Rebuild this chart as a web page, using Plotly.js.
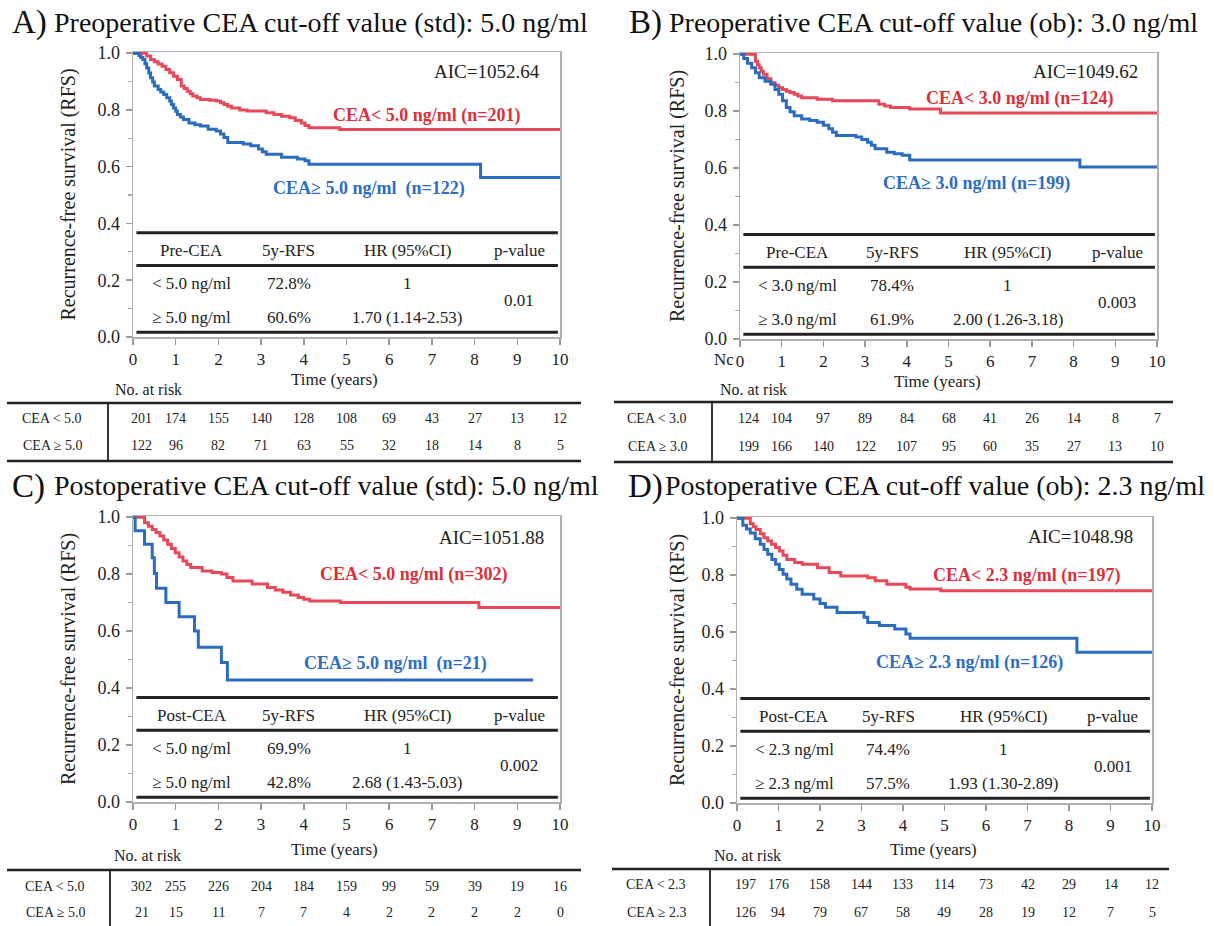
<!DOCTYPE html>
<html><head><meta charset="utf-8">
<script src="https://cdn.plot.ly/plotly-3.0.1.min.js"></script>
<style>html,body{margin:0;padding:0;background:#fff}</style>
</head><body><div id="chart" style="width:1214px;height:926px"></div>
<script>
// ---------------- DATA ----------------
const timeTicks = [0,1,2,3,4,5,6,7,8,9,10];
const yTickVals = [0,0.2,0.4,0.6,0.8,1.0];
const yTickText = ['0.0','0.2','0.4','0.6','0.8','1.0'];

// Panel A (preoperative, std 5.0)
const aLowT = [0,0.32,0.41,0.5,0.59,0.68,0.77,0.86,0.95,1.04,1.13,1.2,1.27,1.34,1.4,1.5,1.58,1.8,1.95,2.05,2.13,2.22,2.31,2.5,2.67,3.12,3.3,3.48,3.67,3.8,3.94,4.03,4.12,4.84,10];
const aLowS = [1,0.99,0.978,0.97,0.962,0.954,0.942,0.931,0.919,0.907,0.884,0.875,0.866,0.857,0.849,0.843,0.837,0.834,0.831,0.825,0.819,0.813,0.807,0.8,0.796,0.79,0.784,0.778,0.772,0.763,0.754,0.745,0.737,0.731,0.731];
const aHighT = [0,0.14,0.18,0.23,0.28,0.32,0.37,0.41,0.46,0.5,0.59,0.65,0.72,0.79,0.86,0.9,0.95,1.0,1.04,1.11,1.18,1.31,1.45,1.58,1.76,1.95,2.05,2.13,2.22,2.58,2.76,2.94,3.03,3.12,3.48,3.85,4.03,4.12,8.14,10];
const aHighS = [1,0.992,0.985,0.978,0.963,0.948,0.93,0.913,0.898,0.884,0.872,0.863,0.854,0.843,0.831,0.819,0.807,0.795,0.784,0.775,0.766,0.754,0.748,0.743,0.732,0.726,0.715,0.703,0.685,0.68,0.674,0.662,0.653,0.644,0.633,0.627,0.621,0.609,0.562,0.562];

// Panel B (preoperative, ob 3.0)
const bLowT = [0,0.37,0.42,0.46,0.51,0.56,0.65,0.74,0.84,0.93,1.02,1.11,1.2,1.3,1.39,1.48,1.85,2.22,3.33,3.47,3.61,4.07,4.81,10];
const bLowS = [1,0.975,0.963,0.952,0.94,0.929,0.914,0.9,0.891,0.882,0.876,0.87,0.865,0.859,0.853,0.847,0.842,0.836,0.824,0.818,0.813,0.807,0.793,0.793];
const bHighT = [0,0.09,0.18,0.28,0.37,0.46,0.6,0.74,0.84,0.93,1.02,1.11,1.2,1.3,1.48,1.67,1.85,2.0,2.13,2.22,2.31,2.78,2.92,3.06,3.15,3.24,3.52,3.7,3.89,4.07,8.15,10];
const bHighS = [1,0.985,0.968,0.952,0.935,0.917,0.905,0.894,0.876,0.859,0.836,0.813,0.798,0.784,0.772,0.767,0.761,0.75,0.738,0.726,0.714,0.709,0.7,0.691,0.68,0.668,0.656,0.65,0.645,0.628,0.604,0.604];

// Panel C (postoperative, std 5.0)
const cLowT = [0,0.27,0.36,0.45,0.54,0.63,0.72,0.81,0.9,0.99,1.08,1.17,1.26,1.35,1.62,1.85,2.07,2.2,2.34,2.79,3.15,3.33,3.51,3.69,3.87,4.0,4.14,4.86,8.1,10];
const cLowS = [1,0.98,0.968,0.957,0.946,0.934,0.92,0.905,0.89,0.875,0.86,0.846,0.834,0.823,0.811,0.806,0.8,0.788,0.776,0.765,0.753,0.744,0.736,0.727,0.718,0.712,0.706,0.7,0.683,0.683];
const cHighT = [0,0.05,0.27,0.45,0.5,0.55,0.77,1.08,1.44,1.53,2.07,2.21,9.37];
const cHighS = [1,0.952,0.905,0.857,0.802,0.75,0.70,0.65,0.60,0.543,0.49,0.428,0.428];

// Panel D (postoperative, ob 2.3)
const dLowT = [0,0.32,0.39,0.46,0.56,0.65,0.74,0.83,0.93,1.02,1.11,1.2,1.39,1.57,1.94,2.22,2.5,3.15,3.33,3.61,4.07,4.17,4.91,10];
const dLowS = [1,0.98,0.97,0.96,0.945,0.931,0.92,0.908,0.897,0.885,0.87,0.855,0.844,0.838,0.826,0.809,0.797,0.791,0.78,0.768,0.757,0.751,0.745,0.745];
const dHighT = [0,0.14,0.23,0.32,0.44,0.56,0.65,0.74,0.84,0.93,1.02,1.11,1.2,1.3,1.44,1.57,1.85,2.0,2.13,2.41,3.06,3.15,3.43,3.8,4.07,4.17,8.19,10];
const dHighS = [1,0.975,0.962,0.948,0.928,0.908,0.89,0.873,0.855,0.838,0.82,0.803,0.786,0.768,0.75,0.733,0.716,0.7,0.687,0.669,0.652,0.634,0.623,0.611,0.593,0.578,0.529,0.529];

const panelLetters = ['A)','B)','C)','D)'];
const panelTitles = ['Preoperative CEA cut-off value (std): 5.0 ng/ml','Preoperative CEA cut-off value (ob): 3.0 ng/ml','Postoperative CEA cut-off value (std): 5.0 ng/ml','Postoperative CEA cut-off value (ob): 2.3 ng/ml'];
const aicTexts = ['AIC=1052.64','AIC=1049.62','AIC=1051.88','AIC=1048.98'];
const lowLabels = ['CEA< 5.0 ng/ml (n=201)','CEA< 3.0 ng/ml (n=124)','CEA< 5.0 ng/ml (n=302)','CEA< 2.3 ng/ml (n=197)'];
const highLabels = ['CEA≥ 5.0 ng/ml  (n=122)','CEA≥ 3.0 ng/ml (n=199)','CEA≥ 5.0 ng/ml  (n=21)','CEA≥ 2.3 ng/ml (n=126)'];
const tableHeadA = ['Pre-CEA','5y-RFS','HR (95%CI)','p-value'];
const tableHeadB = ['Pre-CEA','5y-RFS','HR (95%CI)','p-value'];
const tableHeadC = ['Post-CEA','5y-RFS','HR (95%CI)','p-value'];
const tableHeadD = ['Post-CEA','5y-RFS','HR (95%CI)','p-value'];
const groupsA = ['< 5.0 ng/ml','≥ 5.0 ng/ml'], rfsA = ['72.8%','60.6%'], hrA = ['1','1.70 (1.14-2.53)'], pA = '0.01';
const groupsB = ['< 3.0 ng/ml','≥ 3.0 ng/ml'], rfsB = ['78.4%','61.9%'], hrB = ['1','2.00 (1.26-3.18)'], pB = '0.003';
const groupsC = ['< 5.0 ng/ml','≥ 5.0 ng/ml'], rfsC = ['69.9%','42.8%'], hrC = ['1','2.68 (1.43-5.03)'], pC = '0.002';
const groupsD = ['< 2.3 ng/ml','≥ 2.3 ng/ml'], rfsD = ['74.4%','57.5%'], hrD = ['1','1.93 (1.30-2.89)'], pD = '0.001';
const riskLabelsA = ['CEA < 5.0','CEA ≥ 5.0'];
const riskLabelsB = ['CEA < 3.0','CEA ≥ 3.0'];
const riskLabelsC = ['CEA < 5.0','CEA ≥ 5.0'];
const riskLabelsD = ['CEA < 2.3','CEA ≥ 2.3'];
const riskA_low = [201,174,155,140,128,108,69,43,27,13,12], riskA_high = [122,96,82,71,63,55,32,18,14,8,5];
const riskB_low = [124,104,97,89,84,68,41,26,14,8,7],   riskB_high = [199,166,140,122,107,95,60,35,27,13,10];
const riskC_low = [302,255,226,204,184,159,99,59,39,19,16], riskC_high = [21,15,11,7,7,4,2,2,2,2,0];
const riskD_low = [197,176,158,144,133,114,73,42,29,14,12], riskD_high = [126,94,79,67,58,49,28,19,12,7,5];

// ---------------- LAYOUT / STYLE ----------------
const W = 1214, H = 926;
const FONT = 'Liberation Serif, Times New Roman, serif';
const RED = '#e8485a', BLUE = '#2b6cbf', RED_TXT = '#dc2f3c', BLUE_TXT = '#2d6ec4';
const PX = p => p / W, PY = p => 1 - p / H;
const esc = s => s.replace(/</g,'&lt;').replace(/  /g,' \u00a0');

const geo = [
 {x0:133,x1:560,y0:337,y1:52, titleY:22, letterX:10, titleX:52, ylabX:68, timeY:379, noRiskX:113, noRiskY:389, rTop:403, r1:419, r2:445, rBot:461, rL:7, rR:581, rDiv:108, rLab:52},
 {x0:740,x1:1157,y0:339,y1:53, titleY:22, letterX:627, titleX:667, ylabX:677, timeY:381, noRiskX:718, noRiskY:389, rTop:402, r1:418, r2:446, rBot:462, rL:614, rR:1173, rDiv:712, rLab:657},
 {x0:133,x1:560,y0:802,y1:516, titleY:485, letterX:10, titleX:52, ylabX:68, timeY:849, noRiskX:112, noRiskY:855, rTop:870, r1:886, r2:912, rBot:930, rL:7, rR:581, rDiv:110, rLab:55},
 {x0:737,x1:1152,y0:803,y1:517, titleY:485, letterX:626, titleX:663, ylabX:677, timeY:849, noRiskX:712, noRiskY:855, rTop:869, r1:884, r2:912, rBot:930, rL:612, rR:1169, rDiv:710, rLab:656}
];
const curves = [[aLowT,aLowS,aHighT,aHighS],[bLowT,bLowS,bHighT,bHighS],[cLowT,cLowS,cHighT,cHighS],[dLowT,dLowS,dHighT,dHighS]];
const heads = [tableHeadA,tableHeadB,tableHeadC,tableHeadD];
const groups = [groupsA,groupsB,groupsC,groupsD], rfs=[rfsA,rfsB,rfsC,rfsD], hrs=[hrA,hrB,hrC,hrD], pv=[pA,pB,pC,pD];
const riskLabels = [riskLabelsA,riskLabelsB,riskLabelsC,riskLabelsD];
const risks = [[riskA_low,riskA_high],[riskB_low,riskB_high],[riskC_low,riskC_high],[riskD_low,riskD_high]];
// label placement (time, survival) per panel
const aicPos = [[9.58,0.937],[9.59,0.94],[9.67,0.927],[9.59,0.937]];
const lowPos = [[6.88,0.779],[6.72,0.843],[6.57,0.80],[6.99,0.797]];
const highPos = [[5.53,0.523],[5.68,0.547],[6.14,0.486],[5.6,0.493]];
const colT = [1.38,3.65,6.42,9.05];
const tbl = {top:0.367, head:0.303, hline:0.252, row1:0.188, row2:0.068, p:0.128, bot:0.017};

const traces = [], annotations = [], shapes = [];
const layout = {width:W, height:H, margin:{l:0,r:0,t:0,b:0}, showlegend:false, paper_bgcolor:'#fff', plot_bgcolor:'#fff', annotations, shapes};

geo.forEach((g,i) => {
  const n = i===0 ? '' : String(i+1);
  const xa = 'x'+n, ya = 'y'+n;
  layout['xaxis'+n] = {domain:[PX(g.x0),PX(g.x1)], anchor:ya, range:[0,10], tickvals:timeTicks, ticktext:timeTicks.map(String),
    ticks:'outside', ticklen:6, tickwidth:1.5, tickcolor:'#999', showline:true, linecolor:'#b0b0b0', linewidth:1.5, mirror:true,
    showgrid:false, zeroline:false, fixedrange:true, ticklabelstandoff:0, tickfont:{family:FONT,size:17,color:'#222'}};
  layout['yaxis'+n] = {domain:[PY(g.y0),PY(g.y1)], anchor:xa, range:[0,1.004], tickvals:yTickVals, ticktext:yTickText,
    ticks:'outside', ticklen:6, tickwidth:1.5, tickcolor:'#999', showline:true, linecolor:'#b0b0b0', linewidth:1.5, mirror:true,
    showgrid:false, zeroline:false, fixedrange:true, ticklabelstandoff:2, tickfont:{family:FONT,size:18,color:'#222'},
    minor:{tickvals:[0.1,0.3,0.5,0.7,0.9], ticks:'outside', ticklen:4, tickwidth:1.2, tickcolor:'#aaa'}};
  const c = curves[i];
  traces.push({x:c[0], y:c[1], xaxis:xa, yaxis:ya, type:'scatter', mode:'lines', line:{shape:'hv', color:RED, width:3}, hoverinfo:'skip'});
  traces.push({x:c[2], y:c[3], xaxis:xa, yaxis:ya, type:'scatter', mode:'lines', line:{shape:'hv', color:BLUE, width:3}, hoverinfo:'skip'});

  const ann = (o) => annotations.push(Object.assign({showarrow:false, xanchor:'center', yanchor:'middle'}, o));
  // title
  ann({xref:'paper', yref:'paper', x:PX(g.letterX), y:PY(g.titleY+1), xanchor:'left', text:panelLetters[i], font:{family:FONT,size:33,color:'#111'}});
  ann({xref:'paper', yref:'paper', x:PX(g.titleX), y:PY(g.titleY), xanchor:'left', text:panelTitles[i], font:{family:FONT,size:28,color:'#111'}});
  // y-axis title
  ann({xref:'paper', yref:'paper', x:PX(g.ylabX), y:PY((g.y0+g.y1)/2), textangle:-90, text:'Recurrence-free survival (RFS)', font:{family:FONT,size:20,color:'#222'}});
  // x-axis title
  ann({xref:xa, yref:'paper', x:4.73, y:PY(g.timeY), text:'Time (years)', font:{family:FONT,size:17,color:'#222'}});
  // AIC & group labels
  ann({xref:xa, yref:ya, x:aicPos[i][0], y:aicPos[i][1], xanchor:'right', text:aicTexts[i], font:{family:FONT,size:19,color:'#222'}});
  ann({xref:xa, yref:ya, x:lowPos[i][0], y:lowPos[i][1], text:'<b>'+esc(lowLabels[i])+'</b>', font:{family:FONT,size:18,color:RED_TXT}});
  ann({xref:xa, yref:ya, x:highPos[i][0], y:highPos[i][1], text:'<b>'+esc(highLabels[i])+'</b>', font:{family:FONT,size:18,color:BLUE_TXT}});
  // embedded table
  [tbl.top, tbl.hline, tbl.bot].forEach(v => shapes.push({type:'line', xref:xa, yref:ya, x0:0.08, x1:9.95, y0:v, y1:v, line:{color:'#222', width:3}}));
  const tf = {family:FONT,size:17,color:'#222'};
  heads[i].forEach((h,k) => ann({xref:xa, yref:ya, x:colT[k], y:tbl.head, text:h, font:tf}));
  [tbl.row1, tbl.row2].forEach((rv,r) => {
    ann({xref:xa, yref:ya, x:colT[0], y:rv, text:esc(groups[i][r]), font:tf});
    ann({xref:xa, yref:ya, x:colT[1], y:rv, text:rfs[i][r], font:tf});
    ann({xref:xa, yref:ya, x:colT[2], y:rv, text:hrs[i][r], font:tf});
  });
  ann({xref:xa, yref:ya, x:colT[3], y:tbl.p, text:pv[i], font:tf});
  // number at risk
  ann({xref:'paper', yref:'paper', x:PX(g.noRiskX), y:PY(g.noRiskY), xanchor:'left', text:'No. at risk', font:{family:FONT,size:16,color:'#222'}});
  shapes.push({type:'line', xref:'paper', yref:'paper', x0:PX(g.rL), x1:PX(g.rR), y0:PY(g.rTop), y1:PY(g.rTop), line:{color:'#222', width:2.5}});
  if (g.rBot < H) shapes.push({type:'line', xref:'paper', yref:'paper', x0:PX(g.rL), x1:PX(g.rR), y0:PY(g.rBot), y1:PY(g.rBot), line:{color:'#222', width:2.5}});
  shapes.push({type:'line', xref:'paper', yref:'paper', x0:PX(g.rDiv), x1:PX(g.rDiv), y0:PY(g.rTop), y1:PY(g.rBot), line:{color:'#222', width:1.8}});
  const rf = {family:FONT,size:14,color:'#222'};
  [g.r1, g.r2].forEach((ry,r) => {
    ann({xref:'paper', yref:'paper', x:PX(g.rLab), y:PY(ry), text:esc(riskLabels[i][r]), font:rf});
    risks[i][r].forEach((v,k) => ann({xref:xa, yref:'paper', x:timeTicks[k]===0?0.2:timeTicks[k], y:PY(ry), text:String(v), font:rf}));
  });
});
// clipped "No" fragment visible left of panel B's x ticks
annotations.push({xref:'paper', yref:'paper', x:PX(724), y:PY(359), text:'Nc', showarrow:false, font:{family:FONT,size:17,color:'#222'}});

Plotly.newPlot('chart', traces, layout, {staticPlot:true, displayModeBar:false});
</script></body></html>
